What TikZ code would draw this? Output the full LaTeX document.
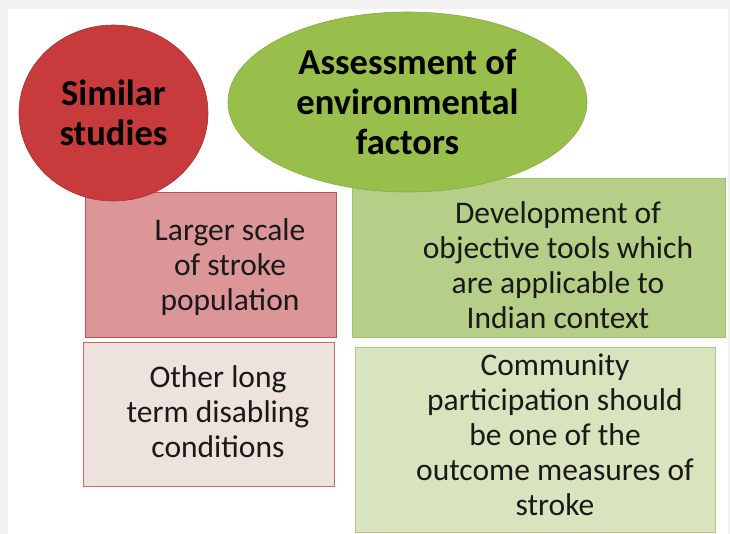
\documentclass[tikz,border=0pt]{standalone}
\usepackage{fontspec}
\setmainfont{Carlito}
\usetikzlibrary{shapes.geometric}
\definecolor{pagegray}{HTML}{F2F2F2}
\definecolor{redfill}{HTML}{C83B3C}
\definecolor{redline}{HTML}{A8302F}
\definecolor{greenfill}{HTML}{98BE4C}
\definecolor{greenline}{HTML}{86AA40}
\definecolor{pinkfill}{HTML}{DC9698}
\definecolor{pinkline}{HTML}{C0504D}
\definecolor{beigefill}{HTML}{EEE2DC}
\definecolor{beigeline}{HTML}{C86A68}
\definecolor{midgreen}{HTML}{B5CE88}
\definecolor{midgreenline}{HTML}{A3C070}
\definecolor{lightgreen}{HTML}{D7E4BD}
\definecolor{lightgreenline}{HTML}{B0C88A}
\tikzset{
  head/.style={ellipse, inner sep=0pt, align=center, font=\fontsize{36.5}{40}\selectfont\bfseries, text=black},
  boxnode/.style={rectangle, inner sep=0pt, line width=0.8pt},
  boxtext/.style={align=center, inner sep=0pt, font=\fontsize{31.5}{35}\selectfont, text=black!90}
}
\begin{document}
\begin{tikzpicture}[x=1pt,y=-1pt]
\useasboundingbox (0,0) rectangle (730,534);
\fill[pagegray] (0,0) rectangle (730,534);
\fill[white] (8,9) rectangle (728,534);
% boxes
\node[boxnode, fill=pinkfill, draw=pinkline, minimum width=251pt, minimum height=145pt] (b1) at (210.5,264.5) {};
\node[boxnode, fill=beigefill, draw=beigeline, minimum width=251pt, minimum height=144pt] (b2) at (208.5,414) {};
\node[boxnode, fill=midgreen, draw=midgreenline, minimum width=373pt, minimum height=159pt] (b3) at (538.5,257.5) {};
\node[boxnode, fill=lightgreen, draw=lightgreenline, minimum width=360pt, minimum height=185pt] (b4) at (535,439.5) {};
% headers
\node[head, fill=redfill, draw=redline, line width=0.6pt, minimum width=189pt, minimum height=176pt] (sim) at (113.5,113) {Similar\\studies};
\node[head, fill=greenfill, draw=greenline, line width=0.6pt, minimum width=359pt, minimum height=180pt] (ass) at (407.5,102) {Assessment of\\environmental\\factors};
% texts
\node[boxtext] (t1) at (230,267) {Larger scale\\of stroke\\population};
\node[boxtext] (t2) at (218,412) {Other long\\term disabling\\conditions};
\node[boxtext] (t3) at (558,265) {Development of\\objective tools which\\are applicable to\\Indian context};
\node[boxtext] (t4) at (555,435) {Community\\participation should\\be one of the\\outcome measures of\\stroke};
\end{tikzpicture}
\end{document}
